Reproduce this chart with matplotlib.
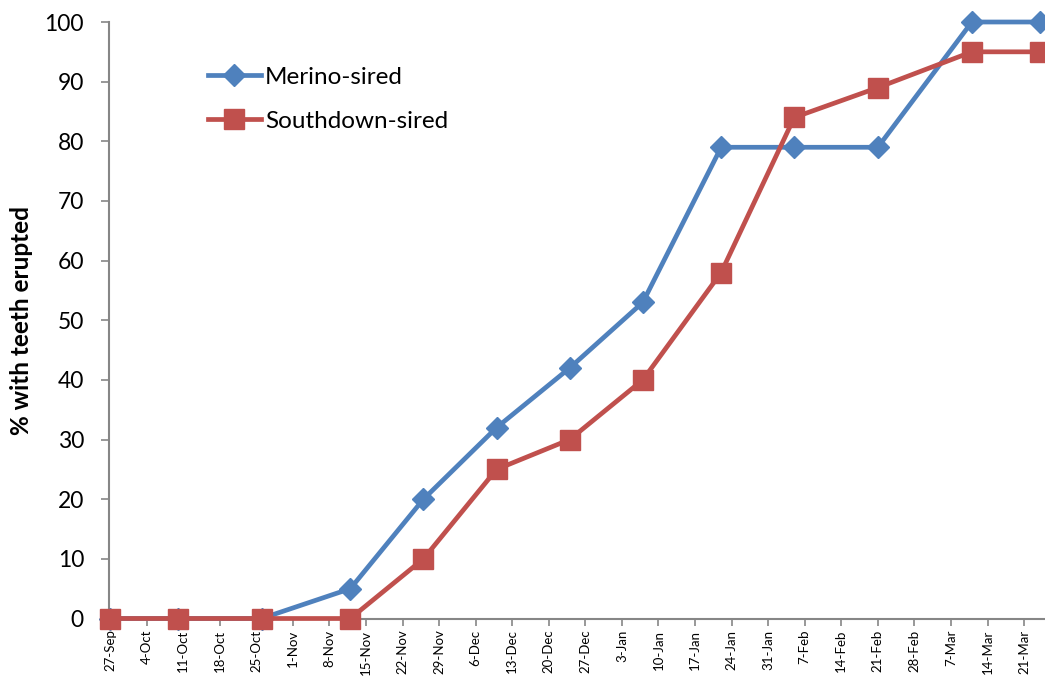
import datetime as dt
import matplotlib
matplotlib.use("Agg")
import matplotlib.pyplot as plt
import matplotlib.dates as mdates

plt.rcParams['font.family'] = ['Lato', 'DejaVu Sans']

# sampling dates (weekly-ish visits)
dates = ["2010-09-27", "2010-10-10", "2010-10-26", "2010-11-12", "2010-11-26",
         "2010-12-10", "2010-12-24", "2011-01-07", "2011-01-22", "2011-02-05",
         "2011-02-21", "2011-03-11", "2011-03-24"]
merino = [0, 0, 0, 5, 20, 32, 42, 53, 79, 79, 79, 100, 100]
southdown = [0, 0, 0, 0, 10, 25, 30, 40, 58, 84, 89, 95, 95]

days = [dt.datetime.strptime(d, "%Y-%m-%d") for d in dates]
start = days[0]

BLUE = '#4F81BD'
RED = '#C0504D'
GREY = '#868686'

fig = plt.figure(figsize=(10.45, 6.77), dpi=100)
ax = fig.add_axes([0.1043, 0.0864, 0.8957, 0.8811])

ax.plot(days, merino, color=BLUE, lw=3.4, marker='D', markersize=11,
        label='Merino-sired', clip_on=False, zorder=3)
ax.plot(days, southdown, color=RED, lw=3.4, marker='s', markersize=14,
        label='Southdown-sired', clip_on=False, zorder=4)

ax.set_ylim(0, 100)
ax.set_yticks(range(0, 101, 10))
ax.set_xlim(start - dt.timedelta(days=0.2), start + dt.timedelta(days=179))

# weekly ticks from the first visit
ticks = [start + dt.timedelta(days=7 * i) for i in range(26)]
ax.set_xticks(ticks)
ax.xaxis.set_major_formatter(mdates.DateFormatter('%-d-%b'))
ax.tick_params(axis='x', rotation=90, labelsize=9.5, length=5, width=1.2,
               color=GREY, pad=3)
ax.tick_params(axis='y', labelsize=16.5, length=6, width=1.2, color=GREY, pad=12)

for side in ['top', 'right']:
    ax.spines[side].set_visible(False)
for side in ['left', 'bottom']:
    ax.spines[side].set_color(GREY)
    ax.spines[side].set_linewidth(1.5)

ax.set_ylabel('% with teeth erupted', fontsize=17.5, fontweight='bold', labelpad=8)

ax.legend(loc='upper left', bbox_to_anchor=(0.082, 0.962), frameon=False,
          fontsize=17.5, handlelength=2.2, handletextpad=0.15, labelspacing=0.95)

fig.savefig('out.png', dpi=100)
